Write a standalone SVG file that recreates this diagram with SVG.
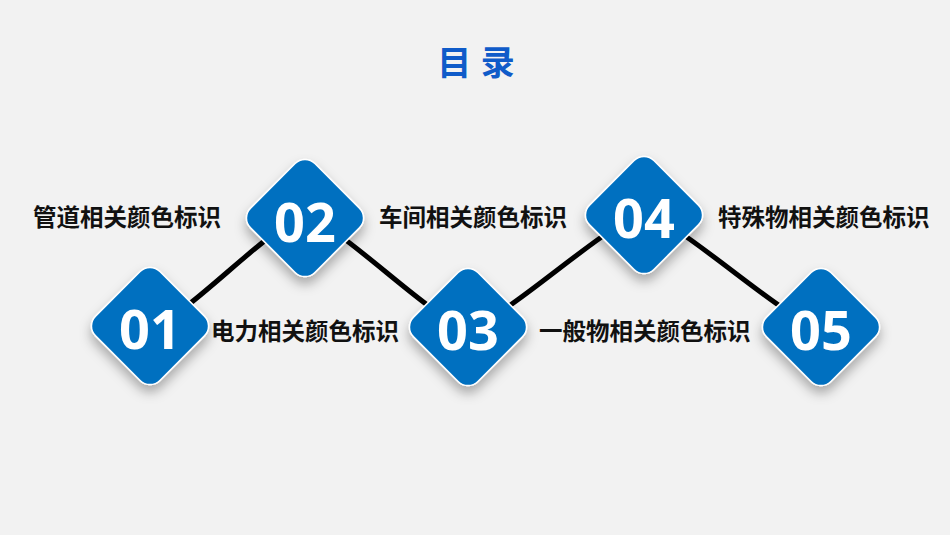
<svg xmlns="http://www.w3.org/2000/svg" width="950" height="535" viewBox="0 0 950 535">
<defs>
<style>
.bg{fill:#F2F2F2}
.title{font-family:"Liberation Sans","Noto Sans CJK SC",sans-serif;font-weight:bold;font-size:34px;fill:#0F5BC9}
.dia{fill:#0070C0;stroke:#FFFFFF;stroke-width:1.5}
.num{font-family:"Open Sans","Liberation Sans",sans-serif;font-weight:bold;font-size:54px;fill:#FFFFFF;text-anchor:middle}
.lbl{font-family:"Noto Sans CJK SC","Liberation Sans",sans-serif;font-weight:bold;font-size:23.5px;fill:#111111}
.wave{fill:none;stroke:#000000;stroke-width:5;stroke-linecap:round}
</style>
<filter id="sh" x="-40%" y="-40%" width="180%" height="180%">
<feDropShadow dx="0" dy="7" stdDeviation="6" flood-color="#000000" flood-opacity="0.3"/>
</filter>
<rect id="d" x="-45.5" y="-45.5" width="91" height="91" rx="14" ry="14" transform="rotate(45)"/>
</defs>
<rect class="bg" x="0" y="0" width="950" height="535"/>
<text class="title" x="476" y="75" text-anchor="middle">目 录</text>
<g id="connectors">
<path class="wave" d="M150,326 C180,326 275,218 305,218 C335,218 438,327 468,327 C498,327 614,215 644,215 C674,215 791,327 821,327"/>
</g>
<g id="node01">
<use href="#d" class="dia" transform="translate(150,326)" filter="url(#sh)"/>
<text class="num" x="150" y="349">01</text>
<text class="lbl" x="211" y="340">电力相关颜色标识</text>
</g>
<g id="node02">
<use href="#d" class="dia" transform="translate(305,218)" filter="url(#sh)"/>
<text class="num" x="305" y="242">02</text>
<text class="lbl" x="33" y="226">管道相关颜色标识</text>
</g>
<g id="node03">
<use href="#d" class="dia" transform="translate(468,327)" filter="url(#sh)"/>
<text class="num" x="468" y="350">03</text>
<text class="lbl" x="379" y="226">车间相关颜色标识</text>
</g>
<g id="node04">
<use href="#d" class="dia" transform="translate(644,215)" filter="url(#sh)"/>
<text class="num" x="644" y="238">04</text>
<text class="lbl" x="539" y="340">一般物相关颜色标识</text>
</g>
<g id="node05">
<use href="#d" class="dia" transform="translate(821,327)" filter="url(#sh)"/>
<text class="num" x="821" y="350">05</text>
<text class="lbl" x="718" y="226">特殊物相关颜色标识</text>
</g>
</svg>
